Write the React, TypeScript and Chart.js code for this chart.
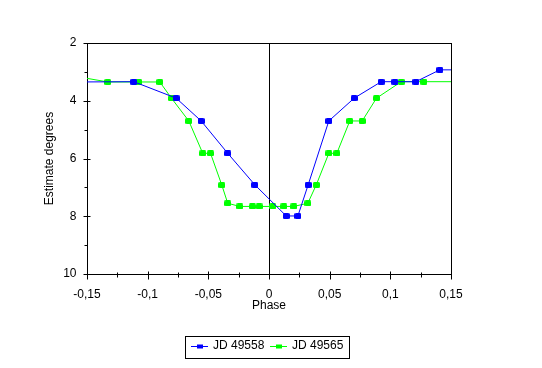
import React, { useEffect, useRef } from "react";
import { Chart, registerables } from "chart.js";

Chart.register(...registerables);

// ---- data ----
const seriesNames = ["JD 49558", "JD 49565"];

const blueX = [-0.16, -0.1115, -0.0765, -0.0559, -0.034, -0.0117, 0.0142, 0.0238, 0.0323, 0.0493, 0.0702, 0.0925, 0.1037, 0.121, 0.1408, 0.16];
const blueY = [3.35, 3.34, 3.91, 4.7, 5.82, 6.91, 7.99, 7.99, 6.91, 4.7, 3.91, 3.34, 3.34, 3.34, 2.93, 2.93];

const greenX = [-0.16, -0.1329, -0.1073, -0.09, -0.0804, -0.0661, -0.0546, -0.0482, -0.0389, -0.034, -0.0241, -0.0136, -0.0081, 0.0031, 0.0122, 0.0204, 0.032, 0.039, 0.0493, 0.0559, 0.0666, 0.0768, 0.0886, 0.109, 0.1276, 0.16];
const greenY = [3.15, 3.35, 3.35, 3.35, 3.91, 4.7, 5.82, 5.82, 6.92, 7.55, 7.66, 7.66, 7.66, 7.66, 7.66, 7.66, 7.55, 6.91, 5.82, 5.82, 4.7, 4.7, 3.91, 3.34, 3.34, 3.34];

const xMajorTicks = [-0.15, -0.1, -0.05, 0, 0.05, 0.1, 0.15];
const xTickLabels = ["-0,15", "-0,1", "-0,05", "0", "0,05", "0,1", "0,15"];
const xMinorTicks = [-0.125, -0.075, -0.025, 0.025, 0.075, 0.125];
const yMajorTicks = [2, 4, 6, 8, 10];
const yTickLabels = ["2", "4", "6", "8", "10"];
const yMinorTicks = [3, 5, 7, 9];

const xTitle = "Phase";
const yTitle = "Estimate degrees";

const BLUE = "#0000FF";
const GREEN = "#00FF00";
const FONT = '12px "Liberation Sans", Arial, sans-serif';

function makeMarker(color: string, w: number, h: number) {
  const c = document.createElement("canvas");
  c.width = w;
  c.height = h;
  const ctx = c.getContext("2d")!;
  ctx.fillStyle = color;
  ctx.beginPath();
  const r = 1.5;
  ctx.moveTo(r, 0);
  ctx.lineTo(w - r, 0);
  ctx.quadraticCurveTo(w, 0, w, r);
  ctx.lineTo(w, h - r);
  ctx.quadraticCurveTo(w, h, w - r, h);
  ctx.lineTo(r, h);
  ctx.quadraticCurveTo(0, h, 0, h - r);
  ctx.lineTo(0, r);
  ctx.quadraticCurveTo(0, 0, r, 0);
  ctx.closePath();
  ctx.fill();
  return c;
}

const framePlugin = {
  id: "framePlugin",
  beforeDatasetsDraw(chart: any) {
    const { ctx, chartArea } = chart;
    const xs = chart.scales.x;
    ctx.save();
    ctx.strokeStyle = "#000";
    ctx.lineWidth = 1;
    const l = Math.round(chartArea.left) + 0.5;
    const r = Math.round(chartArea.right) + 0.5;
    const t = Math.round(chartArea.top) + 0.5;
    const b = Math.round(chartArea.bottom) + 0.5;
    ctx.strokeRect(l, t, r - l, b - t);
    const zx = Math.round(xs.getPixelForValue(0)) + 0.5;
    ctx.beginPath();
    ctx.moveTo(zx, t);
    ctx.lineTo(zx, b);
    ctx.stroke();
    ctx.restore();
  },
  afterDraw(chart: any) {
    const { ctx, chartArea } = chart;
    const xs = chart.scales.x;
    const ys = chart.scales.y;
    const l = Math.round(chartArea.left) + 0.5;
    const b = Math.round(chartArea.bottom) + 0.5;
    ctx.save();
    ctx.strokeStyle = "#000";
    ctx.fillStyle = "#000";
    ctx.lineWidth = 1;
    ctx.beginPath();
    yMajorTicks.forEach((v) => {
      const y = Math.round(ys.getPixelForValue(v)) + 0.5;
      ctx.moveTo(l - 4, y);
      ctx.lineTo(l + 3, y);
    });
    yMinorTicks.forEach((v) => {
      const y = Math.round(ys.getPixelForValue(v)) + 0.5;
      ctx.moveTo(l - 3, y);
      ctx.lineTo(l, y);
    });
    xMajorTicks.forEach((v) => {
      const x = Math.round(xs.getPixelForValue(v)) + 0.5;
      ctx.moveTo(x, b - 3);
      ctx.lineTo(x, b + 5);
    });
    xMinorTicks.forEach((v) => {
      const x = Math.round(xs.getPixelForValue(v)) + 0.5;
      ctx.moveTo(x, b - 2);
      ctx.lineTo(x, b + 3);
    });
    ctx.stroke();

    ctx.font = FONT;
    ctx.textBaseline = "middle";
    ctx.textAlign = "right";
    yMajorTicks.forEach((v, i) => {
      ctx.fillText(yTickLabels[i], l - 11, ys.getPixelForValue(v));
    });
    ctx.textAlign = "center";
    xMajorTicks.forEach((v, i) => {
      ctx.fillText(xTickLabels[i], xs.getPixelForValue(v), b + 20);
    });
    ctx.fillText(xTitle, xs.getPixelForValue(0), b + 31);

    ctx.save();
    ctx.translate(50, (chartArea.top + chartArea.bottom) / 2);
    ctx.rotate(-Math.PI / 2);
    ctx.fillText(yTitle, 0, 0);
    ctx.restore();

    // legend
    ctx.strokeRect(185.5, 336.5, 164, 22);
    const ly = 346;
    const items = [
      { color: BLUE, x0: 191, label: seriesNames[0] },
      { color: GREEN, x0: 270, label: seriesNames[1] },
    ];
    items.forEach((it) => {
      ctx.strokeStyle = it.color;
      ctx.fillStyle = it.color;
      ctx.beginPath();
      ctx.moveTo(it.x0, ly + 0.5);
      ctx.lineTo(it.x0 + 17, ly + 0.5);
      ctx.stroke();
      ctx.fillRect(it.x0 + 6, ly - 1.5, 6, 4);
      ctx.fillStyle = "#000";
      ctx.textAlign = "left";
      ctx.fillText(it.label, it.x0 + 22, ly);
    });
    ctx.restore();
  },
};

export default function App() {
  const ref = useRef<HTMLCanvasElement | null>(null);
  useEffect(() => {
    if (!ref.current) return;
    const blueMarker = makeMarker(BLUE, 7, 6);
    const greenMarker = makeMarker(GREEN, 7, 6);
    const chart = new Chart(ref.current, {
      type: "line",
      data: {
        datasets: [
          {
            label: seriesNames[0],
            data: blueX.map((x, i) => ({ x, y: blueY[i] })),
            borderColor: BLUE,
            backgroundColor: BLUE,
            borderWidth: 1,
            pointStyle: blueMarker as any,
            pointRadius: 4,
            tension: 0,
          },
          {
            label: seriesNames[1],
            data: greenX.map((x, i) => ({ x, y: greenY[i] })),
            borderColor: GREEN,
            backgroundColor: GREEN,
            borderWidth: 1,
            pointStyle: greenMarker as any,
            pointRadius: 4,
            tension: 0,
          },
        ],
      },
      options: {
        responsive: false,
        animation: false,
        layout: { padding: { left: 87, top: 43, right: 91, bottom: 94 } },
        plugins: { legend: { display: false }, tooltip: { enabled: false } },
        scales: {
          x: { type: "linear", min: -0.15, max: 0.15, display: false },
          y: { type: "linear", min: 2, max: 10, reverse: true, display: false },
        },
      },
      plugins: [framePlugin],
    });
    return () => chart.destroy();
  }, []);
  return (
    <div style={{ position: "fixed", left: 0, top: 0, width: 542, height: 368, background: "#fff" }}>
      <canvas ref={ref} width={542} height={368} />
    </div>
  );
}
